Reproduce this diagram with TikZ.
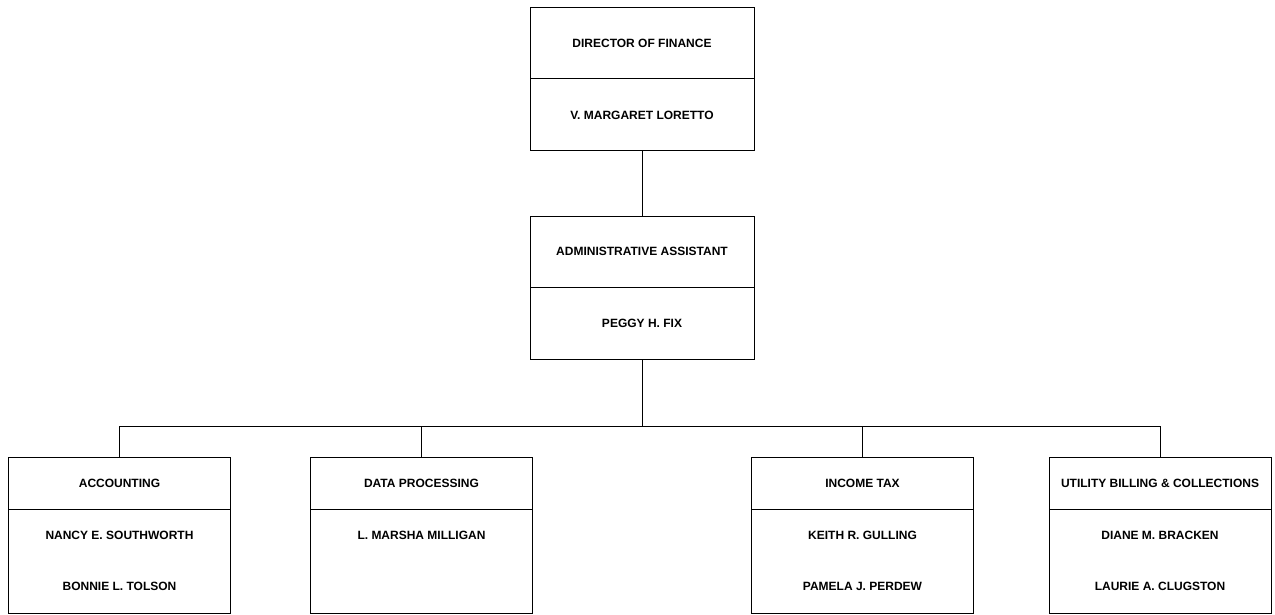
\documentclass[tikz,border=0pt]{standalone}
\usepackage{fontspec}
\setmainfont{Liberation Sans}
\usetikzlibrary{positioning}
\tikzstyle{headbox}=[draw,line width=1pt,outer sep=0pt,inner sep=0pt,minimum width=224pt,minimum height=71pt,font=\bfseries\fontsize{12}{14}\selectfont]
\tikzstyle{staffbox}=[headbox,minimum height=72pt]
\tikzstyle{unithead}=[headbox,minimum width=222pt,minimum height=52pt]
\tikzstyle{unitstaff}=[unithead,minimum height=104pt,align=center,font=\bfseries\fontsize{12}{51}\selectfont]
\tikzstyle{link} = [draw,line width=0.8pt]

\begin{document}
\begin{tikzpicture}[x=1pt,y=-1pt]
    \useasboundingbox (0,0) rectangle (1275,615);
    % Top of the chart
    \node[headbox] (dir) at (642,43.5) {DIRECTOR OF FINANCE};
    \node[staffbox, below=0pt of dir] (dirn) {V. MARGARET LORETTO};
    \node[headbox] (adm) at (642,251.5) {ADMINISTRATIVE ASSISTANT};
    \node[staffbox, below=0pt of adm] (admn) {PEGGY H. FIX};
    \draw[link] (dirn.south) -- (adm.north);

    % The four units
    \foreach \pos/\name/\title/\staff in {{(119.5,483)/acc/ACCOUNTING/{NANCY E. SOUTHWORTH\\BONNIE L. TOLSON}},
        {(421.5,483)/dp/DATA PROCESSING/{L. MARSHA MILLIGAN\\\mbox{}}},
        {(862.5,483)/itx/INCOME TAX/{KEITH R. GULLING\\PAMELA J. PERDEW}},
        {(1160,483)/ubc/UTILITY BILLING \& COLLECTIONS/{DIANE M. BRACKEN\\LAURIE A. CLUGSTON}}}
    {
        \node[unithead] (\name) at \pos {\title};
        \node[unitstaff, below=0pt of \name] (\name n) {\staff};
    }

    % Connect the units to the assistant
    \coordinate[below=67pt of admn.south] (hub);
    \draw[link] (admn.south) -- (hub);
    \foreach \dest in {acc,dp,itx,ubc}
        \draw[link] (hub) -| (\dest.north);
\end{tikzpicture}
\end{document}
